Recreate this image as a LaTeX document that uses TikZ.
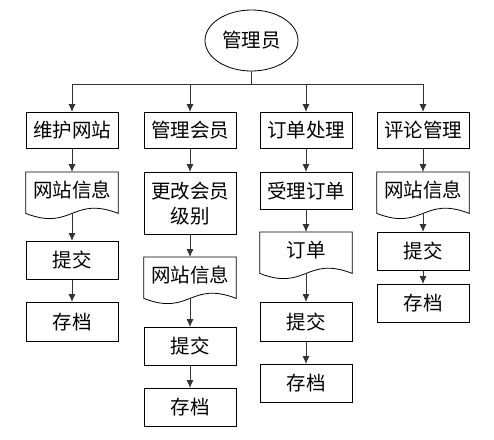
\documentclass[tikz,border=0pt]{standalone}
\usepackage{fontspec}
\newfontfamily\cjk{Noto Sans CJK SC}
\usetikzlibrary{arrows.meta,shapes.geometric}
\begin{document}
\begin{tikzpicture}[x=1pt,y=-1pt,
  txt/.style={font=\cjk\fontsize{19.5}{25}\selectfont},
  box/.style={txt, draw=black, line width=0.8pt, minimum width=92pt, inner sep=0pt, anchor=north, align=center},
  docnode/.style={txt, minimum width=92pt, minimum height=36pt, inner sep=0pt, anchor=north, align=center},
  docline/.style={draw=black, line width=0.8pt},
  conn/.style={draw=black!80, line width=0.8pt},
  arr/.style={conn, -{Latex[length=8pt,width=7pt]}}
]
\useasboundingbox (0,0) rectangle (494,439);
\node[txt, ellipse, draw=black, line width=0.8pt, minimum width=93pt, minimum height=61pt, inner sep=0pt] (root) at (251.5,40.5) {管理员};

% row 1
\node[box, minimum height=36pt] (a1) at (72,112) {维护网站};
\node[box, minimum height=36pt] (b1) at (190,112) {管理会员};
\node[box, minimum height=36pt] (c1) at (306,112) {订单处理};
\node[box, minimum height=36pt] (d1) at (423,112) {评论管理};

% column 1
\node[docnode] (a2) at (72,172) {网站信息};
\node[box, minimum height=38pt] (a3) at (72,241) {提交};
\node[box, minimum height=39pt] (a4) at (72,302) {存档};

% column 2
\node[box, minimum height=62pt] (b2) at (190,172) {更改会员\\级别};
\node[docnode] (b3) at (190,257) {网站信息};
\node[box, minimum height=38pt] (b4) at (190,327) {提交};
\node[box, minimum height=38pt] (b5) at (190,388) {存档};

% column 3
\node[box, minimum height=37pt] (c2) at (306,172) {受理订单};
\node[docnode] (c3) at (306,232) {订单};
\node[box, minimum height=39pt] (c4) at (306,302) {提交};
\node[box, minimum height=38pt] (c5) at (306,364) {存档};

% column 4
\node[docnode] (d2) at (423,172) {网站信息};
\node[box, minimum height=38pt] (d3) at (423,232) {提交};
\node[box, minimum height=38pt] (d4) at (423,284) {存档};

% document outlines
\foreach \n in {a2,b3,c3,d2}
  \draw[docline] (\n.north west) -- (\n.north east) -- ([yshift=-5pt]\n.south east)
    .. controls +(-46,-18) and +(46,18) .. ([yshift=-5pt]\n.south west) -- cycle;

% bus
\coordinate (bus) at (251.5,84);
\draw[conn] (root.south) -- (bus);
\foreach \n in {a1,b1,c1,d1}
  \draw[arr] (bus) -| (\n.north);

% column connectors
\draw[arr] (a1.south) -- (a2.north);
\draw[arr] ([yshift=-5pt]a2.south) -- (a3.north);
\draw[arr] (a3.south) -- (a4.north);

\draw[arr] (b1.south) -- (b2.north);
\draw[arr] (b2.south) -- (b3.north);
\draw[arr] ([yshift=-5pt]b3.south) -- (b4.north);
\draw[arr] (b4.south) -- (b5.north);

\draw[arr] (c1.south) -- (c2.north);
\draw[arr] (c2.south) -- (c3.north);
\draw[arr] ([yshift=-5pt]c3.south) -- (c4.north);
\draw[arr] (c4.south) -- (c5.north);

\draw[arr] (d1.south) -- (d2.north);
\draw[arr] ([yshift=-5pt]d2.south) -- (d3.north);
\draw[arr] (d3.south) -- (d4.north);
\end{tikzpicture}
\end{document}
